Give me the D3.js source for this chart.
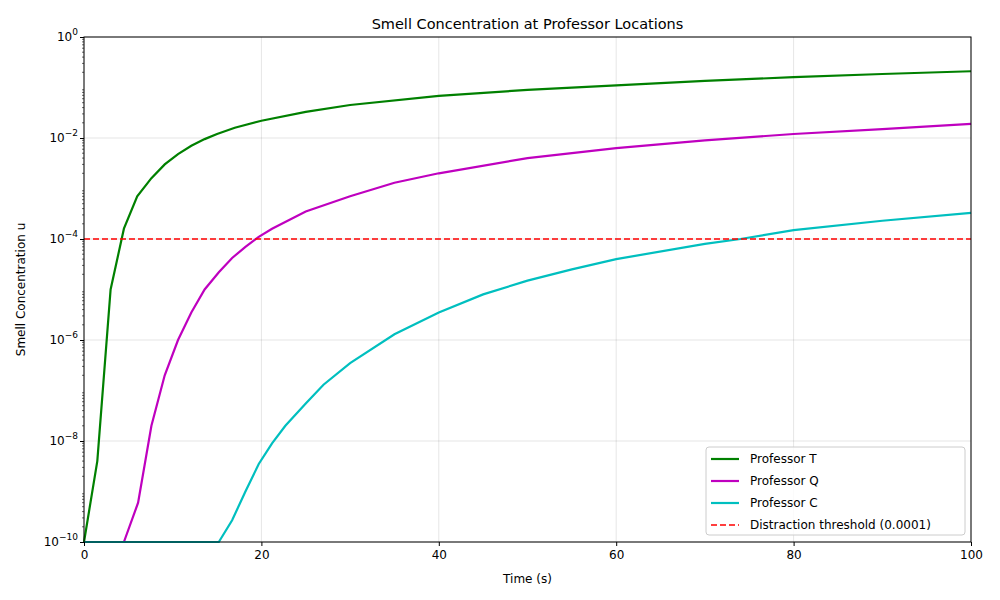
<!DOCTYPE html>
<html><head><meta charset="utf-8">
<script src="https://cdn.jsdelivr.net/npm/d3@7"></script>
<style>body{margin:0;background:#fff;font-family:"DejaVu Sans",sans-serif}</style>
</head><body><svg id="c" width="1000" height="600"></svg>
<script>
// values
const timeT = [0,1.5,3,4.5,6,7.6,9.1,10.6,12.1,13.6,15,17,20,25,30,40,50,60,70,80,90,100];
const profT = [1e-10,4e-9,1e-5,1.6e-4,7e-4,1.6e-3,3e-3,4.8e-3,7e-3,9.5e-3,0.012,0.016,0.022,0.033,0.045,0.068,0.09,0.11,0.135,0.16,0.185,0.21];
const timeQ = [0,4.5,6.1,7.6,9.1,10.6,12.1,13.6,15.2,16.7,18.2,19.7,21.2,25,30,35,40,50,60,70,80,90,100];
const profQ = [1e-10,1e-10,6e-10,2e-8,2e-7,1e-6,3.5e-6,1e-5,2.2e-5,4.2e-5,7e-5,1.1e-4,1.6e-4,3.5e-4,7e-4,1.3e-3,2e-3,4e-3,6.3e-3,9e-3,0.012,0.015,0.019];
const timeC = [0,15.2,16.7,18.2,19.7,21.2,22.7,25,27,30,35,40,45,50,55,60,70,74,80,90,100];
const profC = [1e-10,1e-10,2.7e-10,1e-9,3.5e-9,9e-9,2e-8,5.5e-8,1.3e-7,3.5e-7,1.3e-6,3.5e-6,8e-6,1.5e-5,2.5e-5,4e-5,8e-5,1e-4,1.5e-4,2.3e-4,3.3e-4];
const threshold = 1e-4;
const series = [
  {name:"Professor T", t:timeT, v:profT, color:"#008000"},
  {name:"Professor Q", t:timeQ, v:profQ, color:"#bf00bf"},
  {name:"Professor C", t:timeC, v:profC, color:"#00bfbf"}
];
const xTicks = [0,20,40,60,80,100];
const yExps = [-10,-8,-6,-4,-2,0];

const svg = d3.select("#c");
const L=84,R=971,T=37,B=542;
const x = d3.scaleLinear().domain([0,100]).range([L,R]);
const y = d3.scaleLog().domain([1e-10,1]).range([B,T]);
const g = svg.append("g");

// grid
g.selectAll(".gx").data(xTicks).join("line").attr("x1",d=>x(d)).attr("x2",d=>x(d)).attr("y1",T).attr("y2",B).attr("stroke","#000").attr("stroke-opacity",0.1);
g.selectAll(".gy").data(yExps).join("line").attr("y1",d=>y(10**d)).attr("y2",d=>y(10**d)).attr("x1",L).attr("x2",R).attr("stroke","#000").attr("stroke-opacity",0.1);

const line = d3.line().x(d=>x(d[0])).y(d=>y(d[1]));
series.forEach(s=>{
  g.append("path").attr("d",line(s.t.map((t,i)=>[t,s.v[i]]))).attr("fill","none").attr("stroke",s.color).attr("stroke-width",2.2);
});
g.append("line").attr("x1",L).attr("x2",R).attr("y1",y(threshold)).attr("y2",y(threshold)).attr("stroke","red").attr("stroke-width",1.6).attr("stroke-dasharray","6,3");

// frame
g.append("rect").attr("x",L).attr("y",T).attr("width",R-L).attr("height",B-T).attr("fill","none").attr("stroke","#000").attr("stroke-width",1);

// x axis
const xa = g.append("g").attr("transform",`translate(0,${B})`).call(d3.axisBottom(x).tickValues(xTicks).tickSize(4).tickPadding(4));
xa.select(".domain").remove();
xa.selectAll("text").attr("font-size",12).attr("font-family","DejaVu Sans");
// y axis
const ya = g.append("g").attr("transform",`translate(${L},0)`).call(d3.axisLeft(y).tickValues(yExps.map(e=>10**e)).tickFormat("").tickSize(4));
ya.select(".domain").remove();
const minor=[];
for(let e=-10;e<0;e++) for(let k=2;k<10;k++) minor.push(k*10**e);
g.selectAll(".mt").data(minor).join("line").attr("x1",L-2).attr("x2",L).attr("y1",d=>y(d)).attr("y2",d=>y(d)).attr("stroke","#000").attr("stroke-width",0.6);
yExps.forEach(e=>{
  const t=g.append("text").attr("x",L-6).attr("y",y(10**e)+4).attr("text-anchor","end").attr("font-size",12);
  t.append("tspan").text("10");
  t.append("tspan").attr("dy",-6).attr("font-size",9).text(e===0?"0":"\u2212"+(-e));
});

svg.append("text").attr("x",(L+R)/2).attr("y",29).attr("text-anchor","middle").attr("font-size",14.5).text("Smell Concentration at Professor Locations");
svg.append("text").attr("x",(L+R)/2).attr("y",583).attr("text-anchor","middle").attr("font-size",12).text("Time (s)");
svg.append("text").attr("transform",`translate(25,${(T+B)/2}) rotate(-90)`).attr("text-anchor","middle").attr("font-size",12).text("Smell Concentration u");

// legend
const lg = svg.append("g").attr("transform","translate(706,447)");
lg.append("rect").attr("width",259).attr("height",88).attr("rx",3).attr("fill","#fff").attr("fill-opacity",0.8).attr("stroke","#ccc");
const items = series.map(s=>({name:s.name,color:s.color,dash:null})).concat([{name:"Distraction threshold (0.0001)",color:"red",dash:"6,3"}]);
items.forEach((it,i)=>{
  const yy=12+i*22;
  lg.append("line").attr("x1",5).attr("x2",33).attr("y1",yy).attr("y2",yy).attr("stroke",it.color).attr("stroke-width",it.dash?1.6:2.2).attr("stroke-dasharray",it.dash);
  lg.append("text").attr("x",44).attr("y",yy+4).attr("font-size",12).text(it.name);
});
</script></body></html>
